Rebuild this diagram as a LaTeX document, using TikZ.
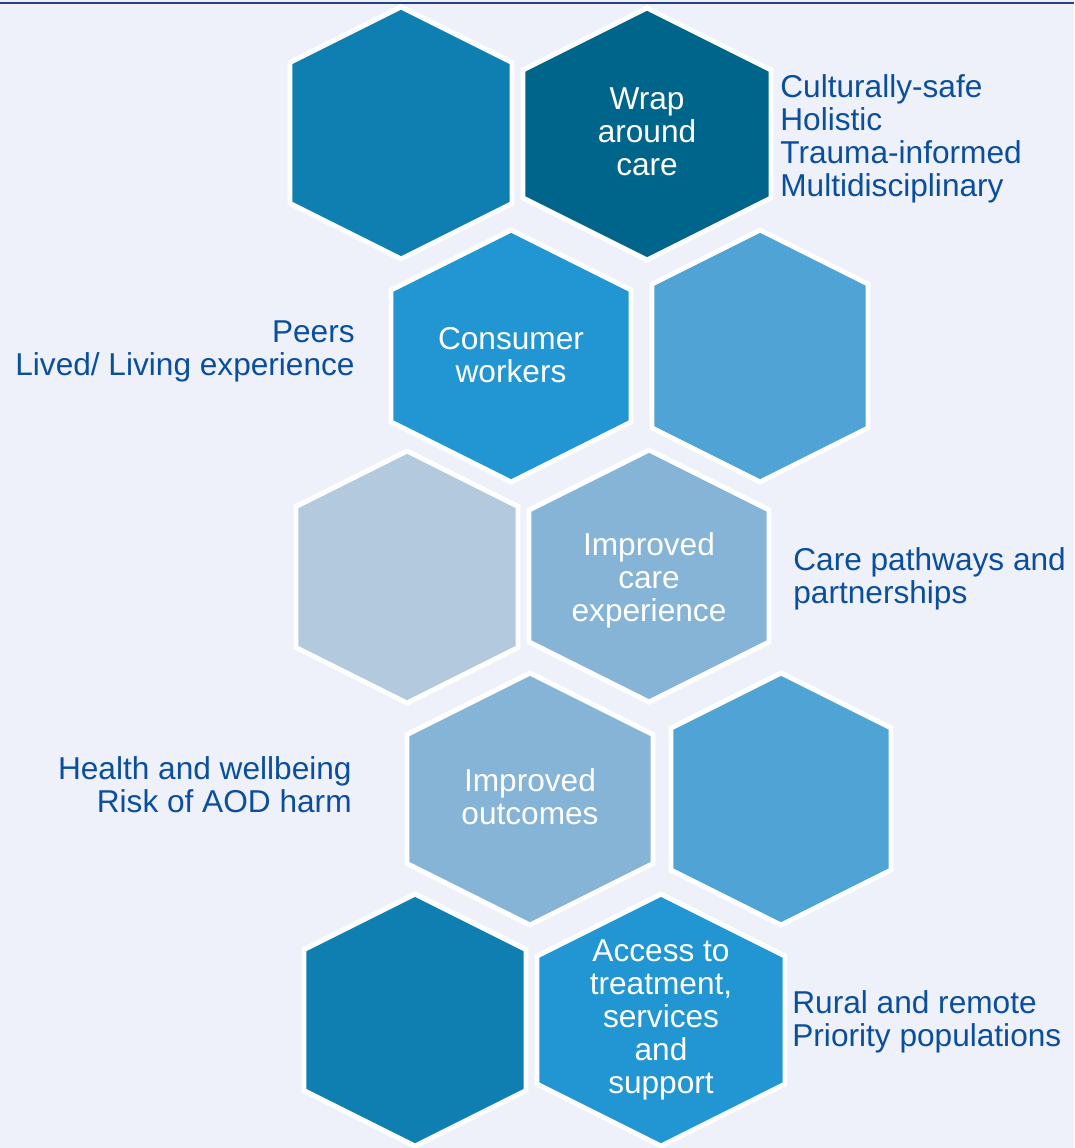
\documentclass[tikz,border=0pt]{standalone}
\usepackage{fontspec}
\setmainfont{Liberation Sans}
\usepackage{tikz}
\usepackage{color}
\definecolor{bgpanel}{RGB}{238,241,250}
\definecolor{topline}{RGB}{38,66,135}
\definecolor{sidetext}{RGB}{11,79,156}
\definecolor{hexdeep}{RGB}{14,127,176}
\definecolor{hexdark}{RGB}{0,101,138}
\definecolor{hexbright}{RGB}{33,150,211}
\definecolor{hexmid}{RGB}{79,163,213}
\definecolor{hexpale}{RGB}{179,201,221}
\definecolor{hexsoft}{RGB}{133,180,214}

\begin{document}
\begin{tikzpicture}[x=0.02cm, y=-0.02cm,
		hexcell/.style={draw=white, line width=2.8pt},
		hextext/.style={text=white, align=center, inner sep=0pt, font=\fontsize{18}{18.7}\selectfont},
		sidenote/.style={text=sidetext, inner sep=0pt, font=\fontsize{18}{18.7}\selectfont}]
	\fill[bgpanel] (0,0) rectangle (1074,1148);
	\useasboundingbox (0,0) rectangle (1074,1148);
	\draw[topline, line width=1.4pt] (0,3)--(1074,3);
	% cells: centre x / centre y / half width / fill
	\foreach \cx/\cy/\w/\col in {401/133/111/hexdeep, 647/134/124/hexdark,
			511/356/120/hexbright, 760/356/108/hexmid,
			407/577/111/hexpale, 649/576/120/hexsoft,
			530/799/123/hexsoft, 781/799/110/hexmid,
			415/1020/111/hexdeep, 661/1020/124/hexbright}
		\filldraw[hexcell, fill=\col] (\cx,\cy-126)--(\cx+\w,\cy-126+\w/2)--(\cx+\w,\cy+126-\w/2)
			--(\cx,\cy+126)--(\cx-\w,\cy+126-\w/2)--(\cx-\w,\cy-126+\w/2)--cycle;
	\node[hextext] (wrap) at (647,132) {Wrap\\around\\care};
	\node[hextext] (consumer) at (511,355) {Consumer\\workers};
	\node[hextext] (carexp) at (649,580) {Improved\\care\\experience};
	\node[hextext] (outcomes) at (530,797) {Improved\\outcomes};
	\node[hextext] (access) at (661,1020) {Access to\\treatment,\\services\\and\\support};
	\node[sidenote, anchor=west, align=left] (wrapnote) at (780,139) {Culturally-safe\\Holistic\\Trauma-informed\\Multidisciplinary};
	\node[sidenote, anchor=east, align=right] (peernote) at (355,351) {Peers\\Lived/ Living experience};
	\node[sidenote, anchor=west, align=left] (pathnote) at (793,579) {Care pathways and\\partnerships};
	\node[sidenote, anchor=east, align=right] (healthnote) at (352,785) {Health and wellbeing\\Risk of AOD harm};
	\node[sidenote, anchor=west, align=left] (ruralnote) at (792,1022) {Rural and remote\\Priority populations};
\end{tikzpicture}
\end{document}
